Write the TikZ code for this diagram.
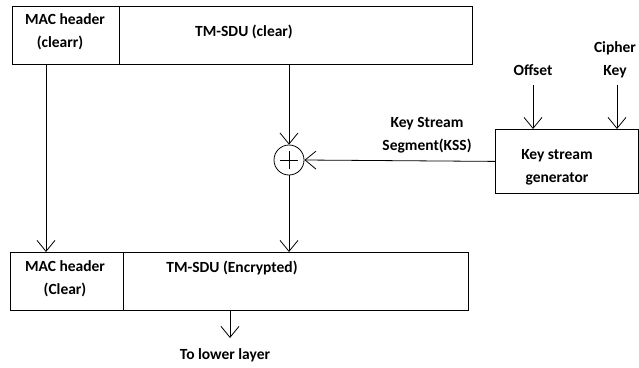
\documentclass[tikz,border=0pt]{standalone}
\usepackage{fontspec}
\setmainfont{Carlito}
\usetikzlibrary{arrows.meta}
\begin{document}
\begin{tikzpicture}[x=1pt,y=-1pt,
  box/.style={draw,line width=0.8pt,rectangle,inner sep=0pt,anchor=north west},
  lbl/.style={font=\bfseries\fontsize{15.5}{22}\selectfont,align=center,inner sep=0pt},
  arr/.style={line width=0.8pt,-{Straight Barb[length=11pt,width=18pt,line width=0.8pt]}},
  ln/.style={line width=0.8pt}]
\useasboundingbox (0,0) rectangle (639,367);
% top frame
\node[box,minimum width=107pt,minimum height=58pt] (mac1) at (12,6) {};
\node[box,minimum width=353pt,minimum height=58pt] (sdu1) at (119,6) {};
\node[lbl] (mac1t) at (65,32) {MAC header\\[1pt]\hspace*{-10pt}(clearr)};
\node[lbl] (sdu1t) at (244,32) {TM-SDU (clear)};
% bottom frame
\node[box,minimum width=113pt,minimum height=58pt] (mac2) at (10,252) {};
\node[box,minimum width=345pt,minimum height=58pt] (sdu2) at (123,252) {};
\node[lbl] (mac2t) at (65,279) {MAC header\\[1pt](Clear)};
\node[lbl] (sdu2t) at (232,268) {TM-SDU (Encrypted)};
% xor
\node[draw,circle,line width=0.8pt,minimum size=30pt,inner sep=0pt,
  path picture={\draw[line width=0.8pt] ([xshift=-9pt]path picture bounding box.center) -- ([xshift=9pt]path picture bounding box.center);
                \draw[line width=0.8pt] ([yshift=-9pt]path picture bounding box.center) -- ([yshift=9pt]path picture bounding box.center);}] (xor) at (289,160) {};
% key stream generator
\node[box,minimum width=143pt,minimum height=64pt] (ksg) at (495,129) {};
\node[lbl] (ksgt) at (557,167) {Key stream\\[1pt]generator};
\node[lbl] (kss) at (427,135) {Key Stream\\[1pt]Segment(KSS)};
\node[lbl] (off) at (533,70) {Offset};
\node[lbl] (ck) at (615,60) {Cipher\\[1pt]Key};
\node[lbl] (lower) at (225,355) {To lower layer};
\coordinate (offs) at (533,85);
\coordinate (cks) at (617,85);
\coordinate (lowe) at (230,338);
% connectors
\draw[arr] ([xshift=34pt]mac1.south west) -- ([xshift=36pt]mac2.north west);
\draw[arr] (sdu1.south -| xor.north) -- (xor.north);
\draw[arr] (xor.south) -- (xor.south |- sdu2.north);
\draw[arr] (ksg.west) -- (xor.east);
\draw[arr] (offs) -- (offs |- ksg.north);
\draw[arr] (cks) -- (cks |- ksg.north);
\draw[arr] (lowe |- sdu2.south) -- (lowe);
\end{tikzpicture}
\end{document}
